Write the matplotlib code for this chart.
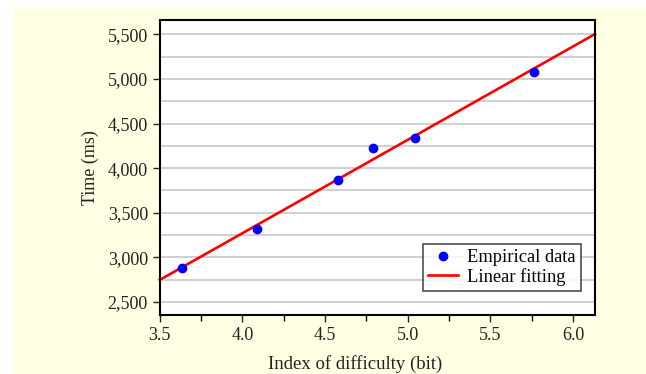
import numpy as np
import matplotlib
matplotlib.use("Agg")
import matplotlib.pyplot as plt
from matplotlib.ticker import MultipleLocator, FuncFormatter

# datos
indice_dificultad = [3.633, 4.087, 4.577, 4.789, 5.046, 5.764]
tiempo_ms = [2880, 3315, 3864, 4220, 4340, 5080]

x_lim = (3.5, 6.133)
y_lim = (2354, 5660)

# ajuste lineal de los datos empiricos
pendiente, ordenada = np.polyfit(indice_dificultad, tiempo_ms, 1)
x_fit = np.array(x_lim)
y_fit = pendiente * x_fit + ordenada

plt.rcParams['font.family'] = ['Liberation Serif', 'DejaVu Serif']

fig = plt.figure(figsize=(6.46, 3.74), dpi=100)
fig.patch.set_facecolor('white')
# fondo amarillo claro
fig.patches.append(plt.Rectangle((13 / 646, 0), 1 - 13 / 646, 1 - 8 / 374,
                                 transform=fig.transFigure, facecolor='#FFFFE3',
                                 edgecolor='none', zorder=-10))

ax = fig.add_axes([159.7 / 646, 59 / 374, (595 - 159.7) / 646, (315 - 20) / 374])
ax.set_facecolor('white')

ax.plot(indice_dificultad, tiempo_ms, 'o', color='#0000FF', markersize=6,
        label='Empirical data', zorder=3)
ax.plot(x_fit, y_fit, '-', color='#FF0000', linewidth=1.9,
        label='Linear fitting', zorder=2, clip_on=False)

ax.set_xlim(*x_lim)
ax.set_ylim(*y_lim)

ax.xaxis.set_major_locator(MultipleLocator(0.5))
ax.xaxis.set_minor_locator(MultipleLocator(0.25))
ax.yaxis.set_major_locator(MultipleLocator(500))
ax.yaxis.set_minor_locator(MultipleLocator(250))
ax.yaxis.set_major_formatter(FuncFormatter(lambda v, p: f"{int(v):,}"))
ax.xaxis.set_major_formatter(FuncFormatter(lambda v, p: f"{v:.1f}"))

ax.grid(True, axis='y', which='both', color='#C8C8C8', linewidth=1.2)
ax.set_axisbelow(True)

ax.tick_params(axis='both', which='major', direction='out', length=5,
               width=1, labelsize=13, colors='#222222')
ax.tick_params(axis='y', which='minor', length=0)
ax.tick_params(axis='x', which='minor', direction='out', length=4, width=1)

for s in ax.spines.values():
    s.set_linewidth(1.5)
    s.set_color('black')

ax.set_xlabel('Index of difficulty (bit)', fontsize=13.5, color='#222222')
ax.xaxis.set_label_coords(0.449, -0.135)
ax.set_ylabel('Time (ms)', fontsize=13, color='#222222', labelpad=6)

leg = ax.legend(loc='lower right', bbox_to_anchor=(0.968, 0.080), borderaxespad=0,
                fontsize=13.3, frameon=True, fancybox=False, handlelength=1.6,
                handletextpad=0.5, borderpad=0.3, labelspacing=0.1)
leg.get_frame().set_edgecolor('#222222')
leg.get_frame().set_linewidth(1.2)

fig.savefig('out.png', dpi=100)
